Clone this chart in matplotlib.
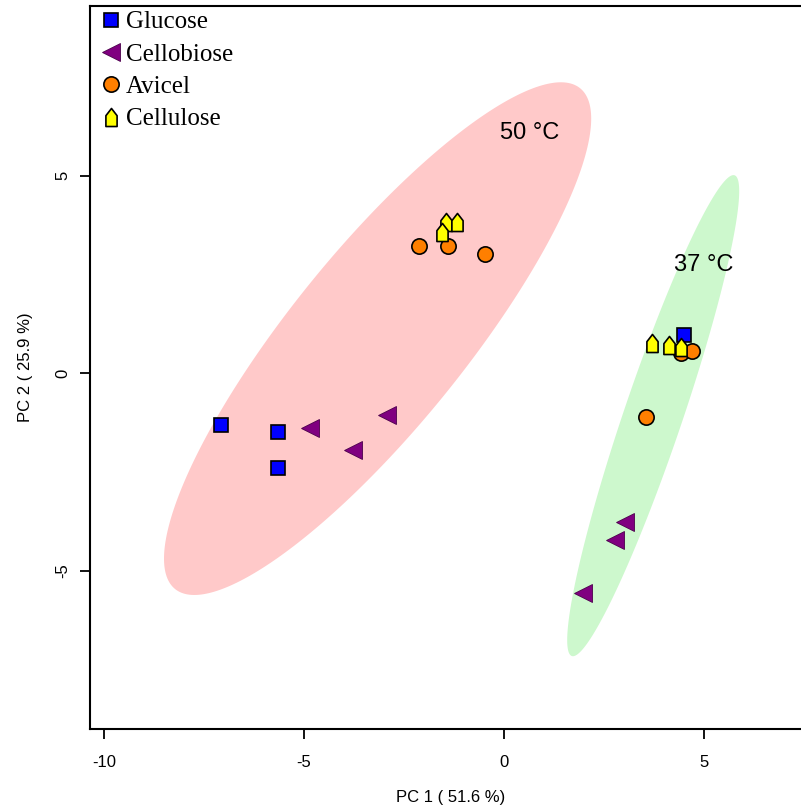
"""PCA score plot: substrates at 50 and 37 degC with group ellipses."""
import matplotlib
matplotlib.use("Agg")
import matplotlib.pyplot as plt
import numpy as np
from matplotlib.path import Path

plt.rcParams["axes.unicode_minus"] = False

# ---- data ----
glucose_x = [-7.08, -5.65, -5.65, 4.50]
glucose_y = [-1.32, -1.49, -2.41, 0.96]

cellobiose_x = [-4.85, -3.78, -2.93, 3.03, 2.77, 1.97]
cellobiose_y = [-1.39, -1.95, -1.06, -3.77, -4.23, -5.57]

avicel_x = [-2.13, -1.40, -0.48, 3.55, 4.43, 4.70]
avicel_y = [3.22, 3.22, 3.01, -1.11, 0.50, 0.55]

cellulose_x = [-1.45, -1.17, -1.55, 3.70, 4.13, 4.43]
cellulose_y = [3.83, 3.83, 3.58, 0.76, 0.71, 0.66]

# ellipses: centre x, centre y, sd x, sd y, correlation
ell_50 = (-3.16, 0.87, 5.34, 6.49, 0.858)
ell_37 = (3.73, -1.08, 2.15, 6.09, 0.933)

labels = ["Glucose", "Cellobiose", "Avicel", "Cellulose"]

house = Path([(-0.62, -1.0), (0.62, -1.0), (0.62, 0.2), (0.0, 1.0),
              (-0.62, 0.2), (-0.62, -1.0)],
             [Path.MOVETO, Path.LINETO, Path.LINETO, Path.LINETO,
              Path.LINETO, Path.CLOSEPOLY])


def ellipse_xy(cx, cy, sx, sy, rho, n=300):
    t = np.linspace(0, 2 * np.pi, n)
    x = cx + sx * np.cos(t)
    y = cy + sy * (rho * np.cos(t) + np.sqrt(1 - rho ** 2) * np.sin(t))
    return x, y


fig = plt.figure(figsize=(8.01, 8.08), dpi=100)
W, H = 801, 808
left_px, right_px, top_px, bot_px = 90, 812, 6, 729
ax = fig.add_axes([left_px / W, (H - bot_px) / H,
                   (right_px - left_px) / W, (bot_px - top_px) / H])

# pixel -> data mapping: x0 at 504px, 40px/unit; y0 at 373px, 39.5px/unit
ax.set_xlim((left_px - 504) / 40, (right_px - 504) / 40)
ax.set_ylim((373 - bot_px) / 39.5, (373 - top_px) / 39.5)

ex, ey = ellipse_xy(*ell_50)
ax.fill(ex, ey, color="#FFC9C9", lw=0, zorder=1)
ex, ey = ellipse_xy(*ell_37)
ax.fill(ex, ey, color="#CDF8CD", lw=0, zorder=1)

ax.text(0.65, 6.07, "50 °C", fontsize=17, family="Liberation Sans",
        ha="center", va="center", zorder=2)
ax.text(4.98, 2.73, "37 °C", fontsize=17, family="Liberation Sans",
        ha="center", va="center", zorder=2)

ms = 10
ax.plot(glucose_x, glucose_y, ls="none", marker="s", ms=ms,
        mfc="#0000FF", mec="black", mew=1.2, label=labels[0], zorder=3)
ax.plot(cellobiose_x, cellobiose_y, ls="none", marker="<", ms=ms + 3,
        mfc="#800080", mec="#4B004B", mew=0.6, label=labels[1], zorder=3)
ax.plot(avicel_x, avicel_y, ls="none", marker="o", ms=ms + 1,
        mfc="#FF7F00", mec="black", mew=1.2, label=labels[2], zorder=3)
ax.plot(cellulose_x, cellulose_y, ls="none", marker=house, ms=ms + 3,
        mfc="#FFFF00", mec="black", mew=1.2, label=labels[3], zorder=3)

leg = ax.legend(loc="upper left", bbox_to_anchor=(0.012, 1.0),
                frameon=False,
                prop={"family": "Liberation Serif", "size": 18},
                handlelength=0.6, handletextpad=0.3, labelspacing=0.39,
                borderaxespad=0.0, borderpad=0.2)

for s in ax.spines.values():
    s.set_linewidth(1.5)

ax.set_xticks([-10, -5, 0, 5])
ax.set_yticks([-5, 0, 5])
ax.tick_params(axis="both", length=7, width=1.3, labelsize=12)
ax.tick_params(axis="x", pad=12)
ax.tick_params(axis="y", pad=7)
for lab in ax.get_yticklabels():
    lab.set_rotation(90)
    lab.set_va("center")
    lab.set_family("Liberation Sans")
for lab in ax.get_xticklabels():
    lab.set_family("Liberation Sans")

ax.set_xlabel("PC 1 ( 51.6 %)", fontsize=12, family="Liberation Sans",
              labelpad=14)
ax.set_ylabel("PC 2 ( 25.9 %)", fontsize=12, family="Liberation Sans",
              labelpad=16)

fig.savefig("out.png", dpi=100)
